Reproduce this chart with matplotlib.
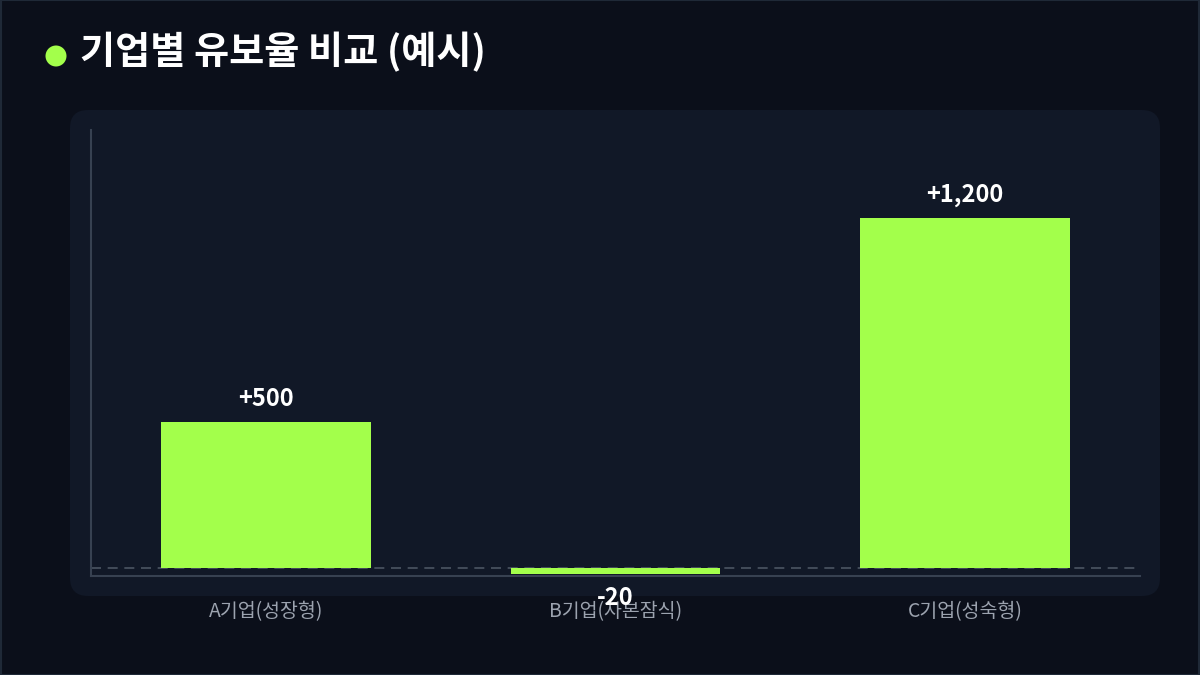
import matplotlib.pyplot as plt
from matplotlib.patches import FancyBboxPatch, Rectangle, Ellipse

plt.rcParams['font.family'] = ['Noto Sans CJK KR', 'DejaVu Sans']

companies = ['A기업(성장형)', 'B기업(자본잠식)', 'C기업(성숙형)']
retention = [500, -20, 1200]
value_labels = ['+500', '-20', '+1,200']

BG = '#0b0f1a'
PANEL = '#111827'
GREEN = '#a3ff4b'

fig = plt.figure(figsize=(12, 6.75), dpi=100, facecolor=BG)

# outer frame and panel behind the axes
fig.patches.append(Rectangle((0.0005, 0.0007), 0.999, 0.9986, transform=fig.transFigure,
                             fill=False, edgecolor='#1f2937', linewidth=1.5, zorder=-2))
fig.patches.append(FancyBboxPatch((70 / 1200, 79 / 675), 1090 / 1200, 486 / 675,
                                  boxstyle='round,pad=0,rounding_size=0.015',
                                  transform=fig.transFigure, facecolor=PANEL,
                                  edgecolor='none', mutation_aspect=1200 / 675, zorder=-1))

# title with dot
fig.patches.append(Ellipse((56 / 1200, 1 - 56 / 675), 21 / 1200, 21 / 675,
                           transform=fig.transFigure, facecolor=GREEN, edgecolor='none'))
fig.text(80 / 1200, 1 - 52 / 675, '기업별 유보율 비교 (예시)', color='white',
         fontsize=27.5, fontweight='bold', va='center', ha='left')

ax = fig.add_axes([91 / 1200, 99 / 675, 1049 / 1200, 446 / 675])
ax.set_facecolor('none')
ax.set_zorder(1)

x = list(range(len(companies)))
bars = ax.bar(x, retention, width=0.6, color=GREEN, zorder=3)
ax.axhline(0, color='#4b5563', linestyle=(0, (6, 4)), linewidth=1.2, zorder=2)

for i, v in enumerate(retention):
    off = 23 if v >= 0 else -24
    ax.annotate(value_labels[i], (x[i], v), xytext=(0, off), textcoords='offset pixels',
                ha='center', va='center', color='white', fontsize=17,
                fontweight='bold', zorder=5)

ax.set_xlim(-0.5, 2.5)
ax.set_ylim(-27, 1500)
ax.set_xticks(x)
ax.set_xticklabels(companies, color='#9ca3af', fontsize=14)
ax.set_yticks([])
ax.tick_params(axis='x', length=0, pad=18)
for s in ['top', 'right']:
    ax.spines[s].set_visible(False)
for s in ['left', 'bottom']:
    ax.spines[s].set_color('#374151')
    ax.spines[s].set_linewidth(1.5)

fig.savefig('out.png', dpi=100, facecolor=BG)
